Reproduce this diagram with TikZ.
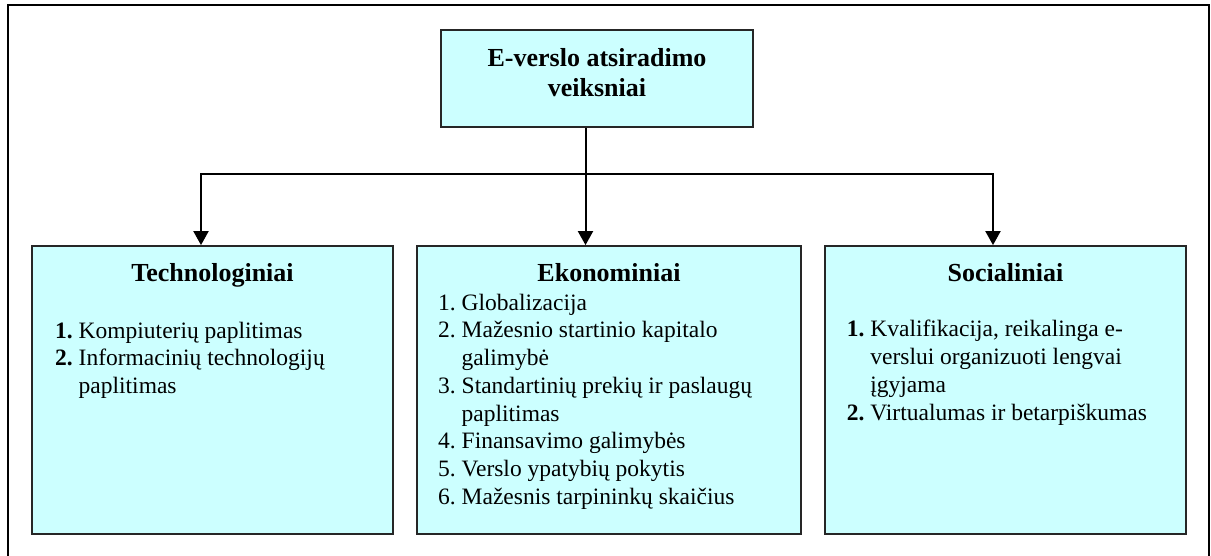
\documentclass[tikz,border=0pt]{standalone}
\usepackage{fontspec}
\setmainfont{Liberation Serif}
\usetikzlibrary{arrows.meta}
\definecolor{boxfill}{HTML}{CCFFFF}
\newcommand{\itemno}[1]{\makebox[23.5pt][l]{#1}}
\tikzset{
  frame/.style={line width=2pt, draw=black},
  factorbox/.style={rectangle, draw=black!85, line width=1.8pt, fill=boxfill, inner sep=0pt},
  titletext/.style={font=\fontsize{26}{30}\selectfont\bfseries, inner sep=0pt, anchor=base},
  heading/.style={font=\fontsize{26}{30}\selectfont\bfseries, inner sep=0pt, anchor=base},
  itemlist/.style={font=\fontsize{23.5}{27.8}\selectfont, inner sep=0pt, anchor=base west},
  conn/.style={line width=2pt, draw=black},
  arrowconn/.style={conn, -{Triangle[width=15pt,length=14pt]}},
}
\begin{document}
\begin{tikzpicture}[x=1pt,y=-1pt]
\useasboundingbox (0,0) rectangle (1211,556);

% surrounding frame, open at the bottom
\draw[frame] (7.5,556) -- (7.5,5) -- (1209,5) -- (1209,556);

% top box
\node[factorbox, minimum width=312pt, minimum height=97pt] (top) at (597,78.5) {};
\node[titletext] (toptext) at (597,67)
  {\begin{tabular}[t]{@{}c@{}}E-verslo atsiradimo\\veiksniai\end{tabular}};

% the three factor groups
\node[factorbox, minimum width=361pt, minimum height=288pt] (tech) at (212.5,390) {};
\node[factorbox, minimum width=384pt, minimum height=288pt] (eco)  at (609,390) {};
\node[factorbox, minimum width=361pt, minimum height=288pt] (soc)  at (1005.5,390) {};

\node[heading] (techhead) at (212.5,281.7) {Technologiniai};
\node[heading] (ecohead)  at (609,281.7) {Ekonominiai};
\node[heading] (sochead)  at (1005.5,281.7) {Socialiniai};

\node[itemlist] (techlist) at (55,338) {%
  \begin{tabular}[t]{@{}l@{}l@{}}
  \itemno{\bfseries 1.} & Kompiuterių paplitimas\\
  \itemno{\bfseries 2.} & Informacinių technologijų\\
  & paplitimas
  \end{tabular}};

\node[itemlist] (ecolist) at (438,310) {%
  \begin{tabular}[t]{@{}l@{}l@{}}
  \itemno{1.} & Globalizacija\\
  \itemno{2.} & Mažesnio startinio kapitalo\\
  & galimybė\\
  \itemno{3.} & Standartinių prekių ir paslaugų\\
  & paplitimas\\
  \itemno{4.} & Finansavimo galimybės\\
  \itemno{5.} & Verslo ypatybių pokytis\\
  \itemno{6.} & Mažesnis tarpininkų skaičius
  \end{tabular}};

\node[itemlist] (soclist) at (846.7,336.7) {%
  \begin{tabular}[t]{@{}l@{}l@{}}
  \itemno{\bfseries 1.} & Kvalifikacija, reikalinga e-\\
  & verslui organizuoti lengvai\\
  & įgyjama\\
  \itemno{\bfseries 2.} & Virtualumas ir betarpiškumas
  \end{tabular}};

% connectors
\coordinate (hub) at (585.5,174);
\draw[conn] (top.south -| hub) -- (hub);
\draw[arrowconn] (hub) -| ([xshift=-11.5pt]tech.north);
\draw[arrowconn] (hub) -- (hub |- eco.north);
\draw[arrowconn] (hub) -| ([xshift=-12.5pt]soc.north);
\end{tikzpicture}
\end{document}
